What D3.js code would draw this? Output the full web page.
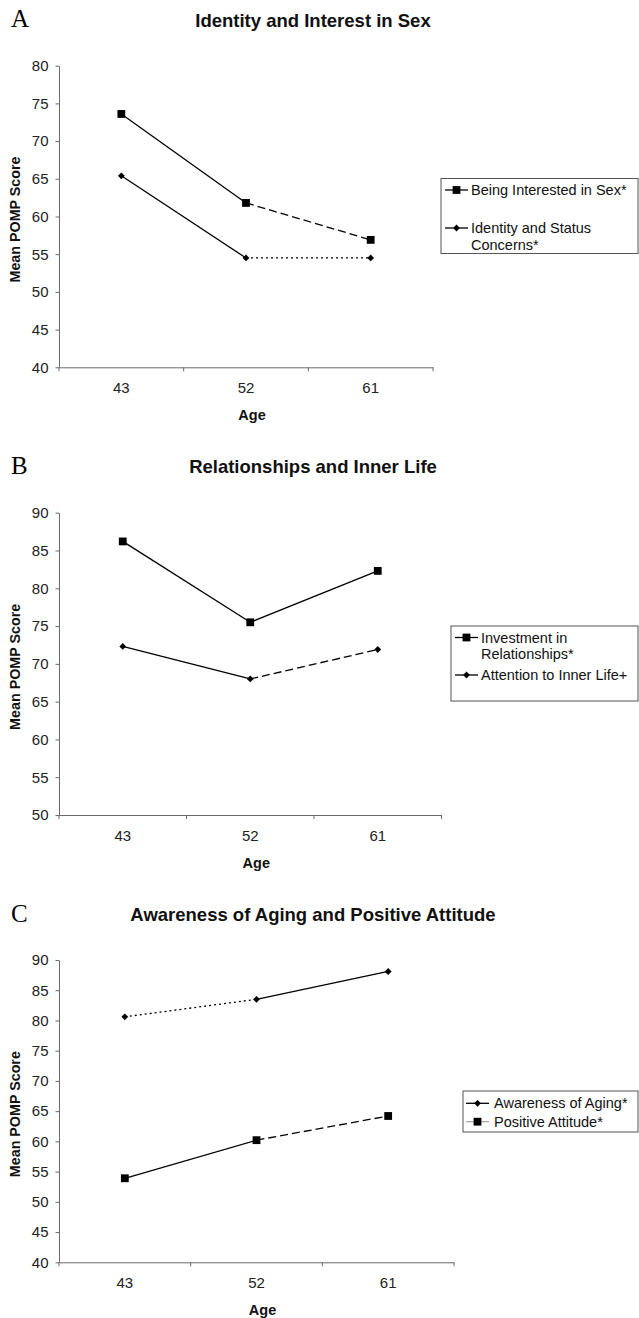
<!DOCTYPE html>
<html>
<head>
<meta charset="utf-8">
<script src="https://cdn.jsdelivr.net/npm/d3@7"></script>
<style>
  body { margin: 0; background: #fff; }
  svg { display: block; font-family: "Liberation Sans", Arial, sans-serif; }
</style>
</head>
<body>
<svg id="chart" width="639" height="1318"></svg>
<script>
// data
const ages = ['43', '52', '61'];

const sexInterest = [73.6, 61.8, 56.9];
const identityStatus = [65.4, 54.5, 54.5];
const relationships = [86.2, 75.5, 82.3];
const innerLife = [72.3, 68.0, 71.9];
const agingAwareness = [80.6, 83.5, 88.1];
const positiveAttitude = [53.9, 60.2, 64.2];

const yTicksA = [40, 45, 50, 55, 60, 65, 70, 75, 80];
const yTicksB = [50, 55, 60, 65, 70, 75, 80, 85, 90];
const yTicksC = [40, 45, 50, 55, 60, 65, 70, 75, 80, 85, 90];

const panelLetters = ['A', 'B', 'C'];
const panelTitles = [
    'Identity and Interest in Sex',
    'Relationships and Inner Life',
    'Awareness of Aging and Positive Attitude'
];

const dash = { solid: null, dashed: '8,4', dotted: '2,3' };

// layout for each panel (pixels)
const panels = [
    {
        ticks: yTicksA, xRange: [59, 433], yRange: [367.3, 65.7],
        titleY: 26.5, legend: { x: 441, y: 178.5, w: 197, h: 75, symX: 445, textX: 471 },
        series: [
            { name: ['Being Interested in Sex*'], values: sexInterest, marker: 'square', segs: ['solid', 'dashed'], symY: 190, textY: 195 },
            { name: ['Identity and Status', 'Concerns*'], values: identityStatus, marker: 'diamond', segs: ['solid', 'dotted'], symY: 228, textY: 233 }
        ]
    },
    {
        ticks: yTicksB, xRange: [59, 441.5], yRange: [815, 512.7],
        titleY: 473, legend: { x: 451, y: 626, w: 187, h: 75, symX: 455, textX: 481 },
        series: [
            { name: ['Investment in', 'Relationships*'], values: relationships, marker: 'square', segs: ['solid', 'solid'], symY: 637.5, textY: 642.5 },
            { name: ['Attention to Inner Life+'], values: innerLife, marker: 'diamond', segs: ['solid', 'dashed'], symY: 675, textY: 680 }
        ]
    },
    {
        ticks: yTicksC, xRange: [59, 454], yRange: [1262.3, 960],
        titleY: 921, legend: { x: 463, y: 1091, w: 175, h: 41, symX: 466, textX: 494 },
        series: [
            { name: ['Awareness of Aging*'], values: agingAwareness, marker: 'diamond', segs: ['dotted', 'solid'], symY: 1103.3, textY: 1108.3 },
            { name: ['Positive Attitude*'], values: positiveAttitude, marker: 'square', segs: ['solid', 'dashed'], symY: 1121.7, textY: 1126.7, symColor: '#aaa' }
        ]
    }
];

const svg = d3.select('#chart');
const axisColor = '#6a6a6a';

function drawMarker(g, type, cx, cy) {
    if (type === 'square') {
        g.append('rect')
            .attr('x', cx - 3.9).attr('y', cy - 3.9)
            .attr('width', 7.8).attr('height', 7.8)
            .attr('fill', '#000');
    } else {
        g.append('path')
            .attr('d', `M${cx},${cy - 3.4}L${cx + 3.4},${cy}L${cx},${cy + 3.4}L${cx - 3.4},${cy}Z`)
            .attr('fill', '#000');
    }
}

panels.forEach((p, i) => {
    const g = svg.append('g');

    const x = d3.scaleBand().domain(ages).range(p.xRange).paddingInner(0).paddingOuter(0);
    const y = d3.scaleLinear().domain(d3.extent(p.ticks)).range(p.yRange);
    const yBottom = p.yRange[0], yTop = p.yRange[1];

    // panel letter and title
    g.append('text')
        .attr('x', 11).attr('y', p.titleY + 0.5)
        .attr('font-family', '"Liberation Serif", "Times New Roman", serif')
        .attr('font-size', 25)
        .text(panelLetters[i]);

    g.append('text')
        .attr('x', 313).attr('y', p.titleY)
        .attr('text-anchor', 'middle')
        .attr('font-size', 18.5).attr('font-weight', 'bold')
        .attr('fill', '#111')
        .text(panelTitles[i]);

    // y axis
    const yAxis = g.append('g')
        .attr('transform', `translate(${p.xRange[0]},0)`)
        .call(d3.axisLeft(y).tickValues(p.ticks).tickSize(3.5).tickSizeOuter(0).tickPadding(7));
    yAxis.select('.domain').attr('stroke', axisColor);
    yAxis.selectAll('.tick line').attr('stroke', axisColor);
    yAxis.selectAll('.tick text')
        .attr('font-size', 15).attr('fill', '#222')
        .attr('font-family', '"Liberation Sans", Arial, sans-serif');

    // x axis: labels centred in bands, ticks at band edges
    const xAxis = g.append('g')
        .attr('transform', `translate(0,${yBottom})`)
        .call(d3.axisBottom(x).tickSize(0).tickSizeOuter(0).tickPadding(15.5));
    xAxis.select('.domain').attr('stroke', axisColor);
    xAxis.selectAll('.tick text')
        .attr('font-size', 15).attr('fill', '#222')
        .attr('font-family', '"Liberation Sans", Arial, sans-serif');

    const edges = ages.map(a => x(a)).concat([x(ages[ages.length - 1]) + x.bandwidth()]);
    xAxis.selectAll('.edge')
        .data(edges)
        .enter().append('line')
        .attr('class', 'edge')
        .attr('x1', d => d).attr('x2', d => d)
        .attr('y1', 0).attr('y2', 4)
        .attr('stroke', axisColor);

    // axis titles
    g.append('text')
        .attr('x', d3.mean(p.xRange) + 6).attr('y', yBottom + 53)
        .attr('text-anchor', 'middle')
        .attr('font-size', 14.5).attr('font-weight', 'bold').attr('fill', '#111')
        .text('Age');

    g.append('text')
        .attr('transform', `translate(20,${(yTop + yBottom) / 2 + 3}) rotate(-90)`)
        .attr('text-anchor', 'middle')
        .attr('font-size', 14.3).attr('font-weight', 'bold').attr('fill', '#111')
        .text('Mean POMP Score');

    // series
    const cx = a => x(a) + x.bandwidth() / 2;
    p.series.forEach(s => {
        s.segs.forEach((style, k) => {
            g.append('line')
                .attr('x1', cx(ages[k])).attr('y1', y(s.values[k]))
                .attr('x2', cx(ages[k + 1])).attr('y2', y(s.values[k + 1]))
                .attr('stroke', '#000').attr('stroke-width', 1.3)
                .attr('stroke-dasharray', dash[style]);
        });
        s.values.forEach((v, k) => drawMarker(g, s.marker, cx(ages[k]), y(v)));
    });

    // legend
    const L = p.legend;
    g.append('rect')
        .attr('x', L.x).attr('y', L.y)
        .attr('width', L.w).attr('height', L.h)
        .attr('fill', 'none').attr('stroke', '#555').attr('stroke-width', 1);

    p.series.forEach(s => {
        g.append('line')
            .attr('x1', L.symX).attr('x2', L.symX + 23)
            .attr('y1', s.symY).attr('y2', s.symY)
            .attr('stroke', s.symColor || '#000').attr('stroke-width', 1.3);
        drawMarker(g, s.marker, L.symX + 11.5, s.symY);
        const t = g.append('text')
            .attr('x', L.textX).attr('y', s.textY)
            .attr('font-size', 14.5).attr('fill', '#111');
        s.name.forEach((line, j) => {
            t.append('tspan')
                .attr('x', L.textX).attr('dy', j === 0 ? 0 : 16.7)
                .text(line);
        });
    });
});
</script>
</body>
</html>
